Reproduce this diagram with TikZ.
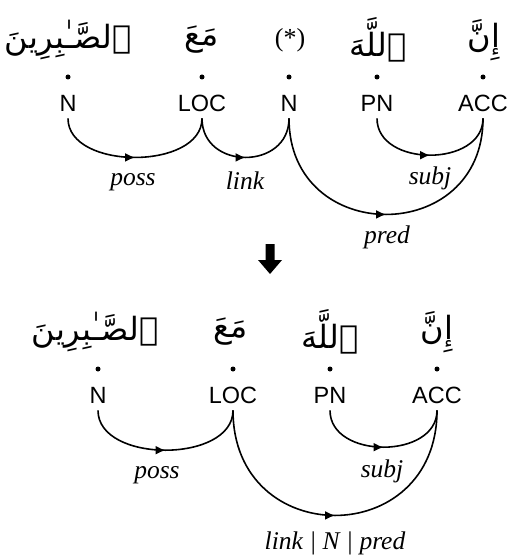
\documentclass[tikz,border=0pt]{standalone}
\usepackage{fontspec}
\setmainfont{Liberation Serif}
\setsansfont{Liberation Sans}
\newfontfamily\arabicfont[Script=Arabic]{DejaVu Sans}
\TeXXeTstate=1
\usetikzlibrary{arrows.meta,decorations.markings}

\tikzset{
  word/.style={font=\arabicfont\fontsize{32}{38}\selectfont, inner sep=0pt},
  tok/.style={circle, fill=black, inner sep=0pt, minimum size=5pt},
  tag/.style={font=\sffamily\fontsize{23.5}{28}\selectfont, text height=16.5pt,
    text depth=0pt, inner xsep=0pt, inner ysep=7pt},
  rel/.style={font=\itshape\fontsize{25.5}{30}\selectfont, anchor=base, inner sep=0pt},
  dep/.style={line width=1.6pt, postaction={decorate},
    decoration={markings, mark=at position 0.5 with {\arrow{Latex[length=10pt,width=9pt]}}}},
}

\begin{document}
\begin{tikzpicture}[x=1pt,y=-1pt]
\useasboundingbox (0,0) rectangle (509,556);

% ---------- upper analysis ----------
\node[word] (a1) at (68,40)  {\beginR ٱلصَّـٰبِرِينَ\endR};
\node[word] (a2) at (202,40) {\beginR مَعَ\endR};
\node[font=\fontsize{26}{30}\selectfont, inner sep=0pt] (a3) at (290,40) {(*)};
\node[word] (a4) at (378,40) {\beginR ٱللَّهَ\endR};
\node[word] (a5) at (484,40) {\beginR إِنَّ\endR};

\node[tok] (p1) at (68,77)  {};
\node[tok] (p2) at (202,77) {};
\node[tok] (p3) at (289,77) {};
\node[tok] (p4) at (377,77) {};
\node[tok] (p5) at (483,77) {};

\node[tag] (t1) at (68,103)  {N};
\node[tag] (t2) at (202,103) {LOC};
\node[tag] (t3) at (289,103) {N};
\node[tag] (t4) at (377,103) {PN};
\node[tag] (t5) at (483,103) {ACC};

\draw[dep] (t1.south) .. controls +(0,52)  and +(0,52)  .. (t2.south);
\draw[dep] (t2.south) .. controls +(0,52)  and +(0,52)  .. (t3.south);
\draw[dep] (t4.south) .. controls +(0,49)  and +(0,49)  .. (t5.south);
\draw[dep] (t3.south) .. controls +(0,128) and +(0,128) .. (t5.south);

\node[rel] (r1) at (133,185) {poss};
\node[rel] (r2) at (245,189) {link};
\node[rel] (r3) at (430,184) {subj};
\node[rel] (r4) at (387,243) {pred};

% ---------- transformation arrow ----------
\fill (265.5,244) -- (274.5,244) -- (274.5,260) -- (282,260) -- (270,274)
      -- (258,260) -- (265.5,260) -- cycle;

% ---------- lower analysis ----------
\node[word] (b1) at (95,332)  {\beginR ٱلصَّـٰبِرِينَ\endR};
\node[word] (b2) at (231,332) {\beginR مَعَ\endR};
\node[word] (b4) at (330,332) {\beginR ٱللَّهَ\endR};
\node[word] (b5) at (437,332) {\beginR إِنَّ\endR};

\node[tok] (q1) at (98,369)  {};
\node[tok] (q2) at (233,369) {};
\node[tok] (q4) at (330,369) {};
\node[tok] (q5) at (437,369) {};

\node[tag] (u1) at (98,395)  {N};
\node[tag] (u2) at (233,395) {LOC};
\node[tag] (u4) at (330,395) {PN};
\node[tag] (u5) at (437,395) {ACC};

\draw[dep] (u1.south) .. controls +(0,53)  and +(0,53)  .. (u2.south);
\draw[dep] (u4.south) .. controls +(0,49)  and +(0,49)  .. (u5.south);
\draw[dep] (u2.south) .. controls +(0,140) and +(0,140) .. (u5.south);

\node[rel] (s1) at (157,478) {poss};
\node[rel] (s2) at (382,477) {subj};
\node[rel] (s3) at (335,549) {link | N | pred};
\end{tikzpicture}
\end{document}
